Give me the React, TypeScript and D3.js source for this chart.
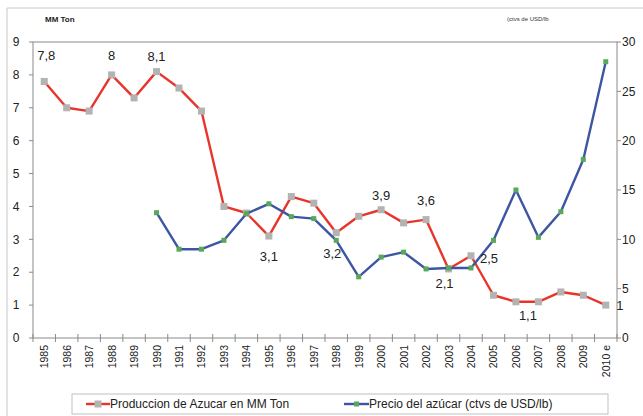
import React from 'react';
import * as d3 from 'd3';

const years = [
  '1985', '1986', '1987', '1988', '1989', '1990', '1991', '1992', '1993', '1994',
  '1995', '1996', '1997', '1998', '1999', '2000', '2001', '2002', '2003', '2004',
  '2005', '2006', '2007', '2008', '2009', '2010 e',
];
const production = [
  7.8, 7.0, 6.9, 8.0, 7.3, 8.1, 7.6, 6.9, 4.0, 3.8, 3.1, 4.3, 4.1, 3.2, 3.7, 3.9,
  3.5, 3.6, 2.1, 2.5, 1.3, 1.1, 1.1, 1.4, 1.3, 1.0,
];
const priceYears = years.slice(5);
const price = [
  12.7, 9.0, 9.0, 9.9, 12.6, 13.6, 12.3, 12.1, 9.9, 6.2, 8.2, 8.7, 7.0, 7.1, 7.1,
  9.9, 15.0, 10.2, 12.8, 18.1, 28.0,
];
const leftTicks = [0, 1, 2, 3, 4, 5, 6, 7, 8, 9];
const rightTicks = [0, 5, 10, 15, 20, 25, 30];
const labelYears = ['1985', '1988', '1990', '1995', '1998', '2000', '2002', '2003', '2004', '2006', '2010 e'];
const labelTexts = ['7,8', '8', '8,1', '3,1', '3,2', '3,9', '3,6', '2,1', '2,5', '1,1', '1'];

const seriesNames = ['Produccion de Azucar en MM Ton', 'Precio del azúcar (ctvs de USD/lb)'];

// where each data label sits relative to its point
const labelOffsets: [number, number][] = [
  [2, -21], [0, -15], [0, -11], [0, 25], [-4, 25], [0, -10], [0, -15],
  [-4, 19], [18, 7], [12, 18], [14, 5],
];

const W = 643;
const H = 416;
const font = 'Liberation Sans, Arial, sans-serif';
const red = '#e8352b';
const blue = '#3d56a3';

const App: React.FC = () => {
  const x = d3.scaleBand<string>().domain(years).range([33, 617]);
  const cx = (d: string) => (x(d) ?? 0) + x.bandwidth() / 2;
  const yL = d3.scaleLinear().domain([0, 9]).range([338, 42]);
  const yR = d3.scaleLinear().domain([0, 30]).range([338, 42]);

  const redLine = d3
    .line<number>()
    .x((_, i) => cx(years[i]))
    .y(d => yL(d));
  const blueLine = d3
    .line<number>()
    .x((_, i) => cx(priceYears[i]))
    .y(d => yR(d));

  const bounds = years.map(d => x(d) ?? 0).concat([x.range()[1]]);

  return (
    <svg
      width={W}
      height={H}
      style={{ position: 'fixed', left: 0, top: 0, background: '#fff' }}
      fontFamily={font}
    >
      {/* outer frame */}
      <line x1={7} y1={8} x2={W} y2={8} stroke="#c8c8c8" />
      <line x1={7} y1={8} x2={7} y2={H} stroke="#c8c8c8" />

      <text x={45} y={22} fontSize={8} fontWeight="bold" fill="#222">MM Ton</text>
      <text x={507} y={21} fontSize={6} fill="#333">(ctvs de USD/lb</text>

      {/* plot frame */}
      <rect x={33} y={42} width={584} height={296} fill="none" stroke="#8a8a8a" strokeWidth={1} />

      {/* left axis */}
      {leftTicks.map(t => (
        <g key={'l' + t}>
          <line x1={29} x2={33} y1={yL(t)} y2={yL(t)} stroke="#8a8a8a" />
          <text x={16} y={yL(t)} dy="0.35em" fontSize={12} textAnchor="middle" fill="#222">{t}</text>
        </g>
      ))}
      {/* right axis */}
      {rightTicks.map(t => (
        <g key={'r' + t}>
          <line x1={617} x2={621} y1={yR(t)} y2={yR(t)} stroke="#8a8a8a" />
          <text x={622} y={yR(t)} dy="0.35em" fontSize={12} fill="#222">{t}</text>
        </g>
      ))}
      {/* x axis */}
      {bounds.map((b, i) => (
        <line key={'x' + i} x1={b} x2={b} y1={334} y2={342} stroke="#8a8a8a" />
      ))}
      {years.map(d => (
        <text
          key={'t' + d}
          transform={`translate(${cx(d) + 4},345) rotate(-90)`}
          fontSize={10.5}
          textAnchor="end"
          fill="#222"
        >
          {d}
        </text>
      ))}

      {/* production */}
      <path d={redLine(production) ?? ''} fill="none" stroke={red} strokeWidth={2.4} strokeLinejoin="round" />
      {production.map((v, i) => (
        <rect key={'p' + i} x={cx(years[i]) - 3.5} y={yL(v) - 3.5} width={7} height={7} fill="#b3b3b3" />
      ))}

      {/* price */}
      <path d={blueLine(price) ?? ''} fill="none" stroke={blue} strokeWidth={2.4} strokeLinejoin="round" />
      {price.map((v, i) => (
        <rect key={'c' + i} x={cx(priceYears[i]) - 2.5} y={yR(v) - 2.5} width={5} height={5} fill="#58a85a" />
      ))}

      {/* data labels */}
      {labelYears.map((yr, k) => {
        const i = years.indexOf(yr);
        const [dx, dy] = labelOffsets[k];
        return (
          <text
            key={'lab' + k}
            x={cx(yr) + dx}
            y={yL(production[i]) + dy}
            fontSize={13}
            textAnchor="middle"
            fill="#222"
          >
            {labelTexts[k]}
          </text>
        );
      })}

      {/* legend */}
      <rect x={72} y={394} width={536} height={20} fill="#fff" stroke="#c0c0c0" />
      <line x1={86} x2={110} y1={404} y2={404} stroke={red} strokeWidth={2.4} />
      <rect x={94.5} y={400.5} width={7} height={7} fill="#b3b3b3" />
      <text x={110} y={408} fontSize={12} fill="#222">{seriesNames[0]}</text>
      <line x1={344} x2={369} y1={404} y2={404} stroke={blue} strokeWidth={2.4} />
      <rect x={354} y={401.5} width={5} height={5} fill="#58a85a" />
      <text x={369} y={408} fontSize={12} fill="#222">{seriesNames[1]}</text>
    </svg>
  );
};

export default App;
